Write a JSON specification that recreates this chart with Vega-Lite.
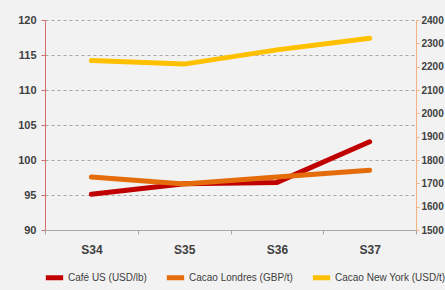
{
  "$schema": "https://vega.github.io/schema/vega-lite/v6.json",
  "width": 371,
  "height": 210,
  "autosize": {"type": "none"},
  "padding": {"left": 45, "top": 20, "right": 29, "bottom": 60},
  "background": "#f2f2f2",
  "config": {
    "view": {"stroke": null},
    "font": "Liberation Sans",
    "axis": {"labelFont": "Liberation Sans", "labelFontWeight": "bold", "labelColor": "#404040", "labelFontSize": 11, "title": null},
    "legend": {"labelFont": "Liberation Sans"}
  },
  "data": {
    "values": [
      {"semaine": "S34", "serie": "Café US (USD/lb)", "cafe": 95.1},
      {"semaine": "S35", "serie": "Café US (USD/lb)", "cafe": 96.6},
      {"semaine": "S36", "serie": "Café US (USD/lb)", "cafe": 96.8},
      {"semaine": "S37", "serie": "Café US (USD/lb)", "cafe": 102.6},
      {"semaine": "S34", "serie": "Cacao Londres (GBP/t)", "cacao": 1727},
      {"semaine": "S35", "serie": "Cacao Londres (GBP/t)", "cacao": 1697},
      {"semaine": "S36", "serie": "Cacao Londres (GBP/t)", "cacao": 1727},
      {"semaine": "S37", "serie": "Cacao Londres (GBP/t)", "cacao": 1756},
      {"semaine": "S34", "serie": "Cacao New York (USD/t)", "cacao": 2226},
      {"semaine": "S35", "serie": "Cacao New York (USD/t)", "cacao": 2211},
      {"semaine": "S36", "serie": "Cacao New York (USD/t)", "cacao": 2272},
      {"semaine": "S37", "serie": "Cacao New York (USD/t)", "cacao": 2322}
    ]
  },
  "encoding": {
    "x": {
      "field": "semaine", "type": "ordinal", "bandPosition": 0.5,
      "scale": {"type": "band", "paddingInner": 0, "paddingOuter": 0},
      "axis": {"labelAngle": 0, "tickBand": "extent", "domainColor": "#a6a6a6", "tickColor": "#a6a6a6", "tickSize": 4, "labelPadding": 10, "labelFontSize": 12}
    },
    "color": {
      "field": "serie", "type": "nominal",
      "scale": {"domain": ["Café US (USD/lb)", "Cacao Londres (GBP/t)", "Cacao New York (USD/t)"], "range": ["#c00000", "#e46c0a", "#ffc000"]},
      "legend": {"title": null, "orient": "none", "direction": "horizontal", "legendX": -2, "legendY": 246, "symbolType": "stroke", "symbolStrokeWidth": 5, "symbolSize": 300, "labelFontSize": 10, "labelColor": "#404040", "columnPadding": 9, "labelOffset": 2}
    }
  },
  "layer": [
    {
      "transform": [{"filter": "datum.cafe != null"}],
      "mark": {"type": "line", "strokeWidth": 5, "strokeCap": "round"},
      "encoding": {
        "y": {
          "field": "cafe", "type": "quantitative",
          "scale": {"domain": [90, 120], "nice": false, "zero": false},
          "axis": {"values": [90, 95, 100, 105, 110, 115, 120], "grid": true, "gridDash": [3, 3], "gridColor": "#a6a6a6", "domainColor": "#d07070", "tickColor": "#d07070", "tickSize": 4, "labelPadding": 5}
        }
      }
    },
    {
      "transform": [{"filter": "datum.cacao != null"}],
      "mark": {"type": "line", "strokeWidth": 5, "strokeCap": "round"},
      "encoding": {
        "y": {
          "field": "cacao", "type": "quantitative",
          "scale": {"domain": [1500, 2400], "nice": false, "zero": false},
          "axis": {"orient": "right", "format": "d", "values": [1500, 1600, 1700, 1800, 1900, 2000, 2100, 2200, 2300, 2400], "grid": false, "domainColor": "#f4b183", "tickColor": "#f4b183", "tickSize": 3, "labelPadding": 2, "labelFontSize": 10}
        }
      }
    }
  ],
  "resolve": {"scale": {"y": "independent"}}
}
